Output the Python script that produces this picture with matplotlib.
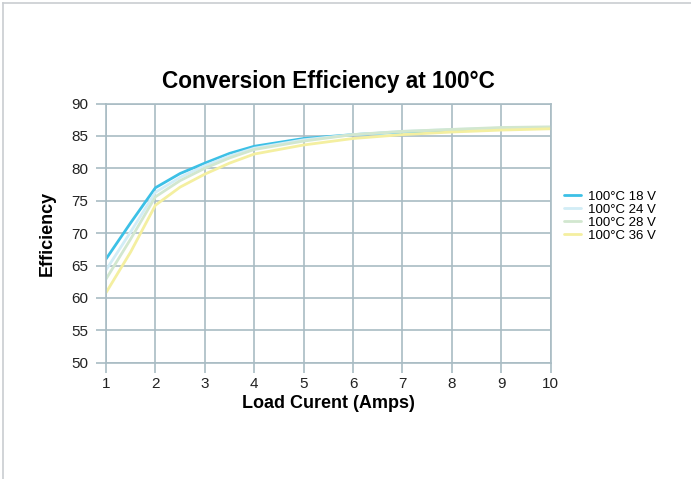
import matplotlib
matplotlib.use('Agg')
import matplotlib.pyplot as plt
from matplotlib.lines import Line2D

plt.rcParams['font.family'] = ['Liberation Sans', 'DejaVu Sans']

# values
load_amps = [1, 1.5, 2, 2.5, 3, 3.5, 4, 5, 6, 7, 8, 9, 10]
eff_18v = [66.0, 71.6, 77.0, 79.2, 80.8, 82.3, 83.4, 84.6, 85.2, 85.6, 85.9, 86.1, 86.2]
eff_24v = [64.3, 70.2, 76.3, 78.6, 80.4, 81.9, 83.1, 84.4, 85.2, 85.7, 86.0, 86.2, 86.3]
eff_28v = [62.9, 69.1, 75.6, 78.1, 80.0, 81.6, 82.9, 84.2, 85.2, 85.7, 86.0, 86.3, 86.4]
eff_36v = [60.8, 67.1, 74.3, 77.1, 79.1, 80.8, 82.2, 83.6, 84.6, 85.2, 85.6, 85.9, 86.1]
series_names = ['100°C 18 V', '100°C 24 V', '100°C 28 V', '100°C 36 V']
series_colors = ['#3cc0e6', '#d2edf6', '#d2e7cf', '#f4efa0']

gridc = '#a9bcc4'

fig = plt.figure(figsize=(6.91, 4.79), dpi=100)
ax = fig.add_axes([0.1534, 0.2428, 0.6436, 0.5411])

for ys, name, c in zip([eff_18v, eff_24v, eff_28v, eff_36v], series_names, series_colors):
    ax.plot(load_amps, ys, color=c, lw=2, label=name, solid_capstyle='round')

ax.set_xlim(1, 10)
ax.set_ylim(50, 90)
ax.set_xticks(range(1, 11))
ax.set_yticks(range(50, 91, 5))
ax.grid(True, color=gridc, lw=1.2)
ax.set_axisbelow(True)
for s in ax.spines.values():
    s.set_color(gridc)
    s.set_linewidth(1.2)
ax.tick_params(length=7, width=1.2, color=gridc, labelsize=11, labelcolor='#222222')
ax.tick_params(axis='y', pad=6)
ax.tick_params(axis='x', pad=3)

ax.set_title('Conversion Efficiency at 100°C', fontsize=16.3, fontweight='bold', pad=11)
ax.set_xlabel('Load Curent (Amps)', fontsize=13, fontweight='bold', labelpad=3)
ax.set_ylabel('Efficiency', fontsize=13, fontweight='bold', labelpad=11)

ax.legend(loc='center left', bbox_to_anchor=(1.015, 0.565), frameon=False, fontsize=9.5,
          handlelength=1.3, handletextpad=0.5, labelspacing=0.05, borderpad=0)

# light frame at top and left of the picture
fig.add_artist(Line2D([0.0045, 0.0045], [0, 0.994], color='#c9cdd1', lw=1.2, transform=fig.transFigure))
fig.add_artist(Line2D([0.0045, 1], [0.994, 0.994], color='#c9cdd1', lw=1.2, transform=fig.transFigure))

fig.savefig('out.png', dpi=100)
